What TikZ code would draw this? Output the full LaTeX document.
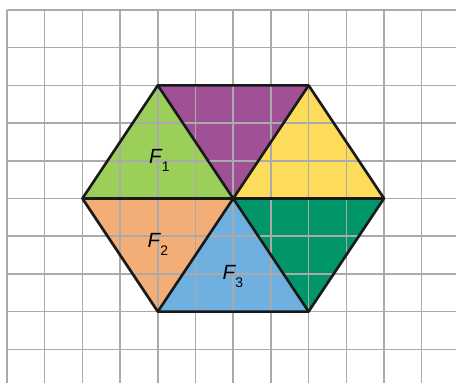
\documentclass[tikz,border=0pt]{standalone}
\usepackage{fontspec}
\setmainfont{Liberation Sans}
\definecolor{cgreen}{RGB}{155,207,90}
\definecolor{cpurple}{RGB}{160,80,148}
\definecolor{cyellow}{RGB}{252,220,90}
\definecolor{cteal}{RGB}{0,150,105}
\definecolor{corange}{RGB}{243,174,120}
\definecolor{cblue}{RGB}{112,176,224}
\definecolor{cgrid}{RGB}{170,170,170}
\newcommand{\flab}[1]{F\hspace{0.3pt}\raisebox{-6pt}{\fontsize{10.5}{12}\selectfont\upshape #1}}
\tikzset{
  gridline/.style={draw=cgrid, line width=1.1pt},
  edge/.style={draw=black!90, line width=2pt, line join=round},
  lab/.style={font=\fontsize{15.5}{18}\selectfont\itshape, inner sep=0pt, anchor=base west}
}
\begin{document}
\begin{tikzpicture}
\useasboundingbox (-0.186,-9.894) rectangle (11.91,0.265);
% coordinates
\coordinate (A) at (4,-2);
\coordinate (B) at (8,-2);
\coordinate (C) at (10,-5);
\coordinate (D) at (8,-8);
\coordinate (E) at (4,-8);
\coordinate (G) at (2,-5);
\coordinate (O) at (6,-5);
% fills
\fill[cpurple] (A) -- (B) -- (O) -- cycle;
\fill[cgreen] (A) -- (G) -- (O) -- cycle;
\fill[cyellow] (B) -- (C) -- (O) -- cycle;
\fill[cteal] (O) -- (C) -- (D) -- cycle;
\fill[cblue] (O) -- (D) -- (E) -- cycle;
\fill[corange] (G) -- (O) -- (E) -- cycle;
% grid
\foreach \i in {0,...,11} \draw[gridline] (\i,0) -- (\i,-9.894);
\foreach \j in {0,...,9} \draw[gridline] (0,-\j) -- (11.91,-\j);
% edges
\draw[edge] (A) -- (B) -- (C) -- (D) -- (E) -- (G) -- cycle;
\draw[edge] (A) -- (D);
\draw[edge] (B) -- (E);
\draw[edge] (G) -- (C);
% labels
\node[lab] (f1) at (3.76,-4.066) {\flab{1}};
\node[lab] (f2) at (3.72,-6.295) {\flab{2}};
\node[lab] (f3) at (5.71,-7.162) {\flab{3}};
\end{tikzpicture}
\end{document}
